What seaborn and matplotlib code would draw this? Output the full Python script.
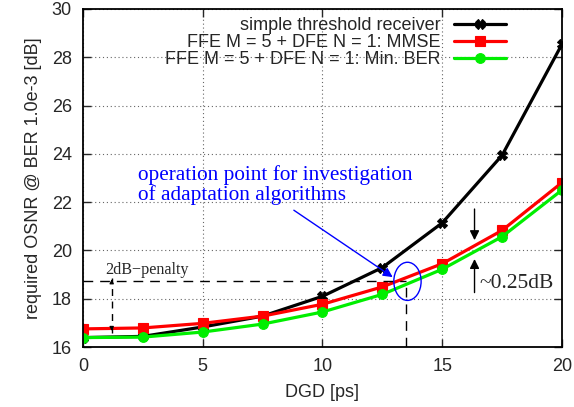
import numpy as np
import pandas as pd
import matplotlib
matplotlib.use("Agg")
import matplotlib.pyplot as plt
import seaborn as sns
from matplotlib.patches import Ellipse

dgd = [0, 2.5, 5, 7.5, 10, 12.5, 15, 17.5, 20]
simple = [16.39, 16.44, 16.83, 17.28, 18.10, 19.29, 21.14, 23.94, 28.54]
mmse = [16.75, 16.79, 16.98, 17.28, 17.77, 18.49, 19.45, 20.83, 22.81]
minber = [16.39, 16.41, 16.62, 16.95, 17.45, 18.18, 19.22, 20.57, 22.50]
labels = ["simple threshold receiver",
          "FFE M = 5 + DFE N = 1: MMSE",
          "FFE M = 5 + DFE N = 1: Min. BER"]
colors = ["black", "#ff0000", "#00ee00"]
markers = ["X", "s", "o"]

df = pd.concat([
    pd.DataFrame({"DGD": dgd, "OSNR": vals, "series": lab})
    for vals, lab in zip([simple, mmse, minber], labels)
])

sns.set_style("ticks")
plt.rcParams['font.family'] = ['Liberation Sans', 'DejaVu Sans']
fig = plt.figure(figsize=(5.74, 4.07), dpi=100)
ax = fig.add_axes([0.1445, 0.1474, 0.8345, 0.8305])

sns.lineplot(data=df, x="DGD", y="OSNR", hue="series", style="series",
             hue_order=labels, style_order=labels,
             palette=dict(zip(labels, colors)),
             markers=dict(zip(labels, markers)), dashes=False,
             markersize=7, markeredgewidth=0.8, linewidth=2.3, ax=ax)
for l in ax.get_lines():
    l.set_markeredgecolor(l.get_color())

ax.set_xlim(0, 20)
ax.set_ylim(16, 30)
ax.set_xticks([0, 5, 10, 15, 20])
ax.set_yticks(range(16, 31, 2))
ax.grid(True, linestyle=(0, (1, 2.5)), color="#666666", linewidth=0.8)
ax.tick_params(direction="in", top=True, right=True, labelsize=13,
               length=6, width=1, pad=8)
for s in ax.spines.values():
    s.set_linewidth(1.3)
    s.set_color("black")
ax.set_xlabel("DGD [ps]", fontsize=13)
ax.set_ylabel("required OSNR @ BER 1.0e-3 [dB]", fontsize=13)
ax.xaxis.set_label_coords(0.5, -0.136)
ax.xaxis.label.set_va("center")
ax.yaxis.set_label_coords(-0.104, 0.5)
ax.yaxis.label.set_va("center")

leg = ax.legend(loc="upper right", bbox_to_anchor=(0.883, 0.976),
                frameon=False, markerfirst=False, borderpad=0,
                fontsize=13, handlelength=2.9, borderaxespad=0,
                labelspacing=0.0, handletextpad=0.7)
leg.set_zorder(5)

serif = ['Liberation Serif', 'DejaVu Serif']
# 2 dB penalty construction
ax.plot([0, 13.5], [18.72, 18.72], color="black", lw=1.0, dashes=(7, 5))
ax.plot([13.5, 13.5], [16, 18.72], color="black", lw=1.0, dashes=(7, 5))
ax.plot([1.2, 1.2], [16.6, 18.85], color="black", lw=1.0, dashes=(5, 4))
ax.annotate("", xy=(1.2, 18.92), xytext=(1.2, 18.6),
            arrowprops=dict(arrowstyle="-|>", color="black", lw=0.8,
                            mutation_scale=6))
ax.annotate("", xy=(1.2, 16.55), xytext=(1.2, 16.9),
            arrowprops=dict(arrowstyle="-|>", color="black", lw=0.8,
                            mutation_scale=6))
ax.text(0.93, 19.2, "2dB\u2212penalty", family=serif, fontsize=11.6,
        va="center", ha="left")

# operation point
ax.text(2.3, 22.7, "operation point for investigation\nof adaptation algorithms",
        family=serif, fontsize=15.3, color="blue", va="center", ha="left",
        linespacing=0.97)
ax.annotate("", xy=(13.03, 18.83), xytext=(8.71, 21.73),
            arrowprops=dict(arrowstyle="-|>", color="blue", lw=1.0,
                            mutation_scale=14))
ax.add_patch(Ellipse((13.55, 18.72), 1.14, 1.58, fill=False,
                     edgecolor="blue", lw=1.0, zorder=6))

# 0.25 dB arrows
ax.annotate("", xy=(16.35, 20.31), xytext=(16.35, 21.83),
            arrowprops=dict(arrowstyle="-|>", color="black", lw=1.0,
                            mutation_scale=14))
ax.annotate("", xy=(16.35, 19.76), xytext=(16.35, 18.14),
            arrowprops=dict(arrowstyle="-|>", color="black", lw=1.0,
                            mutation_scale=14))
ax.text(16.55, 18.63, "~0.25dB", family=serif, fontsize=15.5,
        va="center", ha="left")

fig.savefig("out.png", dpi=100)
